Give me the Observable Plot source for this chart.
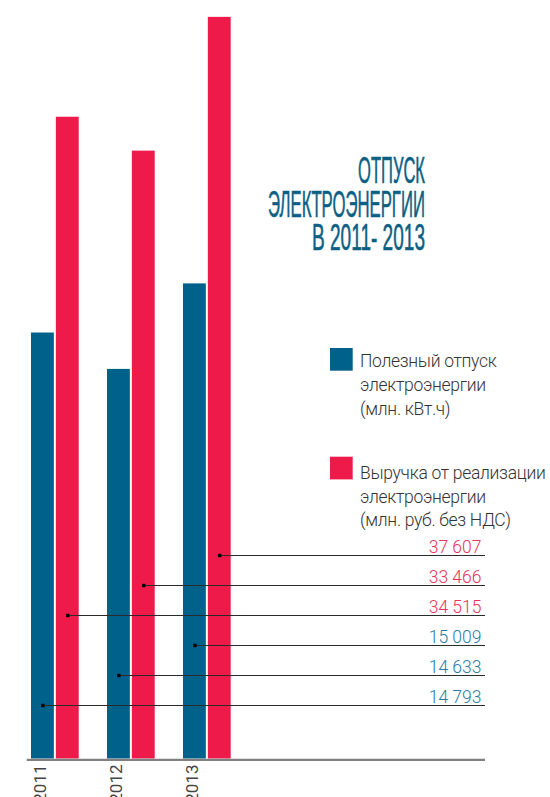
<!DOCTYPE html>
<html><head><meta charset="utf-8">
<script src="https://cdn.jsdelivr.net/npm/d3@7"></script>
<script src="https://cdn.jsdelivr.net/npm/@observablehq/plot@0.6"></script>
<style>
html,body{margin:0;padding:0;background:#fff;}
#chart{position:relative;width:550px;height:797px;overflow:hidden;font-family:Roboto,"Liberation Sans",sans-serif;}
#chart > svg{position:absolute;left:0;top:0;}
</style></head><body><div id="chart"></div>
<script>
// ---- data ----
const years = ["2011", "2012", "2013"];
const supply = [14793, 14633, 15009];      // Полезный отпуск, млн кВт.ч
const revenue = [34515, 33466, 37607];     // Выручка, млн руб. без НДС
const seriesKeys = ["supply", "revenue"];
const legendLabels = [
  ["Полезный отпуск", "электроэнергии", "(млн. кВт.ч)"],
  ["Выручка от реализации", "электроэнергии", "(млн. руб. без НДС)"]
];
const titleLines = ["ОТПУСК", "ЭЛЕКТРОЭНЕРГИИ", "В 2011- 2013"];
const labelSeriesOrder = ["revenue", "supply"];

// ---- styles ----
const colors = {supply: "#00618a", revenue: "#ee1a4a"};
const textColors = {supply: "#2a7ca2", revenue: "#e8335c"};
const W = 550, H = 797;
const gap = 2;
const annotRight = 65;
const fmt = v => d3.format(",")(v).replace(/,/g, " ");

const values = {supply, revenue};
const rows = years.flatMap((year, i) => seriesKeys.map(s => ({year, series: s, value: values[s][i]})));

const yDomains = {supply: [12920, 16255], revenue: [14647, 38129]};
const xOpts = {type: "band", domain: years, range: [31, 230.7], paddingInner: 0.372, paddingOuter: 0, round: false, axis: null};
const bwPre = d3.scaleBand().domain(years).range(xOpts.range).paddingInner(xOpts.paddingInner).paddingOuter(0).bandwidth();
const inset = bwPre / 2 + gap / 2;
const fontStack = "Roboto, 'Liberation Sans', sans-serif";

function barsPlot(series, extra = []) {
  return Plot.plot({
    width: W, height: H, marginTop: 0, marginBottom: 38.5, marginLeft: 26.7, marginRight: annotRight,
    style: {fontFamily: fontStack, background: "transparent"},
    x: xOpts,
    y: {domain: yDomains[series], clamp: true, axis: null},
    marks: [
      Plot.barY(rows.filter(d => d.series === series), {
        x: "year", y1: yDomains[series][0], y2: "value", fill: colors[series],
        insetLeft: series === "revenue" ? inset : 0,
        insetRight: series === "supply" ? inset : 0
      }),
      ...extra
    ]
  });
}

const chart = document.getElementById("chart");
const redPlot = barsPlot("revenue");
chart.appendChild(redPlot);

const half = (bwPre - gap) / 2;
const centerOffset = {supply: half / 2, revenue: half + gap + half / 2};

const bluePlot = barsPlot("supply", [
  Plot.ruleY([yDomains.supply[0]], {stroke: "#808080", strokeWidth: 2.3, dy: 0.8}),
  Plot.text(years, {x: d => d, text: d => d, frameAnchor: "bottom", rotate: -90, textAnchor: "end",
    dy: 5.5, dx: centerOffset.supply - bwPre / 2 + 3, fontSize: 17, fill: "#444"})
]);
chart.appendChild(bluePlot);

// ---- annotation layer ----
const xScale = bluePlot.scale("x");
const labelRows = labelSeriesOrder.flatMap(s => years.slice().reverse().map(y => {
  const i = years.indexOf(y);
  return {key: s + y, series: s, year: y, value: values[s][i], px: xScale.apply(y) + centerOffset[s]};
}));

const annot = Plot.plot({
  width: W, height: H, marginTop: 554.3, marginBottom: H - 705, marginLeft: 0, marginRight: annotRight,
  style: {fontFamily: fontStack, background: "transparent"},
  x: {type: "identity", axis: null},
  y: {type: "point", domain: labelRows.map(d => d.key), padding: 0, axis: null},
  marks: [
    Plot.ruleY(labelRows, {y: "key", x1: "px", x2: W - annotRight, stroke: "#2a2a2a", strokeWidth: 1.2}),
    Plot.dot(labelRows, {x: "px", y: "key", symbol: "square", r: 1.9, fill: "#000"}),
    Plot.text(labelRows, {y: "key", text: d => fmt(d.value), frameAnchor: "right", textAnchor: "end",
      lineAnchor: "bottom", dy: -2.6, dx: -4, fill: d => textColors[d.series], fontSize: 17.5, fontWeight: 300})
  ]
});
chart.appendChild(annot);

// ---- title & legend overlay ----
const ov = d3.select(chart).append("svg").attr("width", W).attr("height", H);
const titleBase = [183, 216.5, 250];
const titleLen = [67, 157, 113];
ov.selectAll("text.title").data(titleLines).join("text").attr("class", "title")
  .attr("x", 425).attr("y", (d, i) => titleBase[i]).attr("text-anchor", "end")
  .attr("textLength", (d, i) => titleLen[i]).attr("lengthAdjust", "spacingAndGlyphs")
  .attr("font-family", "'Liberation Sans', Arial, sans-serif").attr("font-weight", 400)
  .attr("font-size", 37).attr("fill", "#0c5f84").attr("stroke", "#0c5f84").attr("stroke-width", 0.6)
  .text(d => d);

const legTop = [348, 456.7];
const legBase = [[366.7, 391, 415.3], [479.3, 502.5, 525.5]];
seriesKeys.forEach((s, k) => {
  ov.append("rect").attr("x", 330).attr("y", legTop[k]).attr("width", 22.7).attr("height", 22.7).attr("fill", colors[s]);
  legendLabels[k].forEach((line, j) => {
    ov.append("text").attr("x", 360).attr("y", legBase[k][j]).attr("font-family", "Roboto, sans-serif")
      .attr("font-weight", 300).attr("font-size", 17.5).attr("letter-spacing", -0.3).attr("fill", "#333").text(line);
  });
});
</script></body></html>
